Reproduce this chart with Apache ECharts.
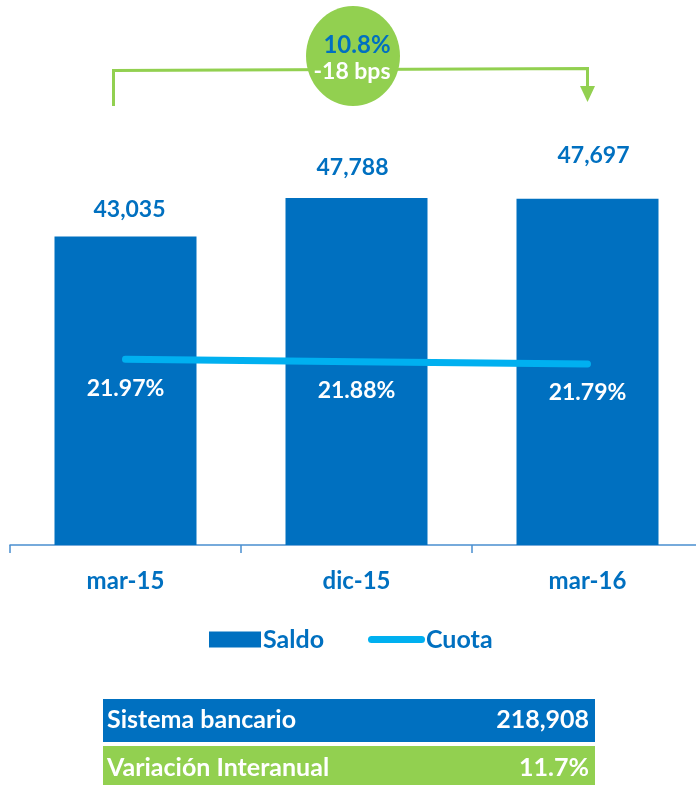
<!DOCTYPE html>
<html>
<head>
<meta charset="utf-8">
<script src="https://cdn.jsdelivr.net/npm/echarts@6/dist/echarts.min.js"></script>
<style>
  html, body { margin: 0; padding: 0; background: #fff; overflow: hidden; }
  /* el eje del original sigue un poco mas alla del borde derecho */
  #chart { width: 703px; height: 785px; }
</style>
</head>
<body>
<div id="chart"></div>
<script>
// datos
var categories = ["mar-15", "dic-15", "mar-16"];
var saldo = [43035, 47788, 47697];
var cuota = [21.97, 21.88, 21.79];
var growthText = "10.8%";
var bpsText = "-18 bps";
var tableRows = [
  ["Sistema bancario", "218,908"],
  ["Variación Interanual", "11.7%"]
];

var BLUE = "#0070c0";
var GREEN = "#92d050";
var CYAN = "#00b0f0";
var FONT = "Lato";

// posicion de las etiquetas de saldo (cada una a mano en el original)
var saldoLabelDist = [15, 19, 32];
var saldoLabelDx = [4, -4, 6];

var myChart = echarts.init(document.getElementById("chart"));

var option = {
  backgroundColor: "#ffffff",
  animation: false,
  textStyle: { fontFamily: FONT },
  grid: {
    left: 10,
    right: 0,
    top: 99,
    bottom: 240,
    containLabel: false
  },
  legend: [
    {
      data: [{ name: "Saldo", icon: "rect" }],
      left: 209,
      top: 627,
      padding: 0,
      itemWidth: 52,
      itemHeight: 16,
      textStyle: { color: BLUE, fontSize: 25, fontWeight: "bold", fontFamily: FONT, padding: [0, 0, 0, -3] }
    },
    {
      data: [{
        name: "Cuota",
        // linea gruesa con puntas redondas
        icon: "path://M3.5,0 H53.5 A3.5,3.5 0 0 1 53.5,7 H3.5 A3.5,3.5 0 0 1 3.5,0 Z",
        itemStyle: { color: CYAN }
      }],
      left: 368,
      top: 627,
      padding: 0,
      itemWidth: 57,
      itemHeight: 7,
      textStyle: { color: BLUE, fontSize: 25, fontWeight: "bold", fontFamily: FONT, padding: [0, 0, 0, -4] }
    }
  ],
  xAxis: [
    {
      type: "category",
      data: categories,
      boundaryGap: true,
      axisLine: { lineStyle: { color: "#4a8fcf", width: 1.5 } },
      axisTick: { show: true, length: 8, lineStyle: { color: "#4a8fcf", width: 1.5 } },
      axisLabel: {
        margin: 24,
        color: BLUE,
        fontSize: 24,
        fontWeight: "bold",
        fontFamily: FONT
      },
      splitLine: { show: false }
    }
  ],
  yAxis: [
    {
      type: "value",
      min: 5000,
      max: 60000,
      show: false
    },
    {
      type: "value",
      min: 14.85,
      max: 31.95,
      show: false
    }
  ],
  series: [
    {
      name: "Saldo",
      type: "bar",
      barWidth: 142,
      itemStyle: { color: BLUE },
      data: saldo.map(function (v, i) {
        return {
          value: v,
          label: { distance: saldoLabelDist[i], offset: [saldoLabelDx[i], 0] }
        };
      }),
      label: {
        show: true,
        position: "top",
        color: BLUE,
        fontSize: 23,
        fontWeight: "bold",
        fontFamily: FONT,
        formatter: function (p) {
          return echarts.format.addCommas(p.value);
        }
      }
    },
    {
      name: "Cuota",
      type: "line",
      yAxisIndex: 1,
      symbol: "circle",
      symbolSize: 1,
      data: cuota,
      lineStyle: { color: CYAN, width: 7, cap: "round" },
      itemStyle: { color: CYAN },
      label: {
        show: true,
        position: "bottom",
        distance: 17,
        color: "#ffffff",
        fontSize: 23,
        fontWeight: "bold",
        fontFamily: FONT,
        formatter: function (p) {
          return p.value.toFixed(2) + "%";
        }
      }
    }
  ],
  graphic: [
    // corchete verde de arriba
    {
      type: "polyline",
      shape: { points: [[113.5, 106], [113.5, 70.5], [587.5, 68.5], [587.5, 88]] },
      style: { stroke: GREEN, lineWidth: 3, fill: null }
    },
    {
      type: "polygon",
      shape: { points: [[580, 86], [595, 86], [587.5, 102]] },
      style: { fill: GREEN }
    },
    {
      type: "ellipse",
      shape: { cx: 353, cy: 56, rx: 47, ry: 50 },
      style: { fill: GREEN }
    },
    {
      type: "text",
      x: 357, y: 45,
      style: { text: growthText, fill: BLUE, font: "bold 24px " + FONT, align: "center", verticalAlign: "middle" }
    },
    {
      type: "text",
      x: 352, y: 72,
      style: { text: bpsText, fill: "#ffffff", font: "bold 23px " + FONT, align: "center", verticalAlign: "middle" }
    },
    // tabla de abajo
    {
      type: "rect",
      shape: { x: 103, y: 699, width: 492, height: 43 },
      style: { fill: BLUE }
    },
    {
      type: "rect",
      shape: { x: 103, y: 746, width: 492, height: 39 },
      style: { fill: GREEN }
    },
    {
      type: "text",
      x: 107, y: 720,
      style: { text: tableRows[0][0], fill: "#ffffff", font: "bold 25px " + FONT, align: "left", verticalAlign: "middle" }
    },
    {
      type: "text",
      x: 589, y: 720,
      style: { text: tableRows[0][1], fill: "#ffffff", font: "bold 25px " + FONT, align: "right", verticalAlign: "middle" }
    },
    {
      type: "text",
      x: 107, y: 768,
      style: { text: tableRows[1][0], fill: "#ffffff", font: "bold 25px " + FONT, align: "left", verticalAlign: "middle" }
    },
    {
      type: "text",
      x: 589, y: 768,
      style: { text: tableRows[1][1], fill: "#ffffff", font: "bold 25px " + FONT, align: "right", verticalAlign: "middle" }
    }
  ]
};

myChart.setOption(option);
</script>
</body>
</html>
